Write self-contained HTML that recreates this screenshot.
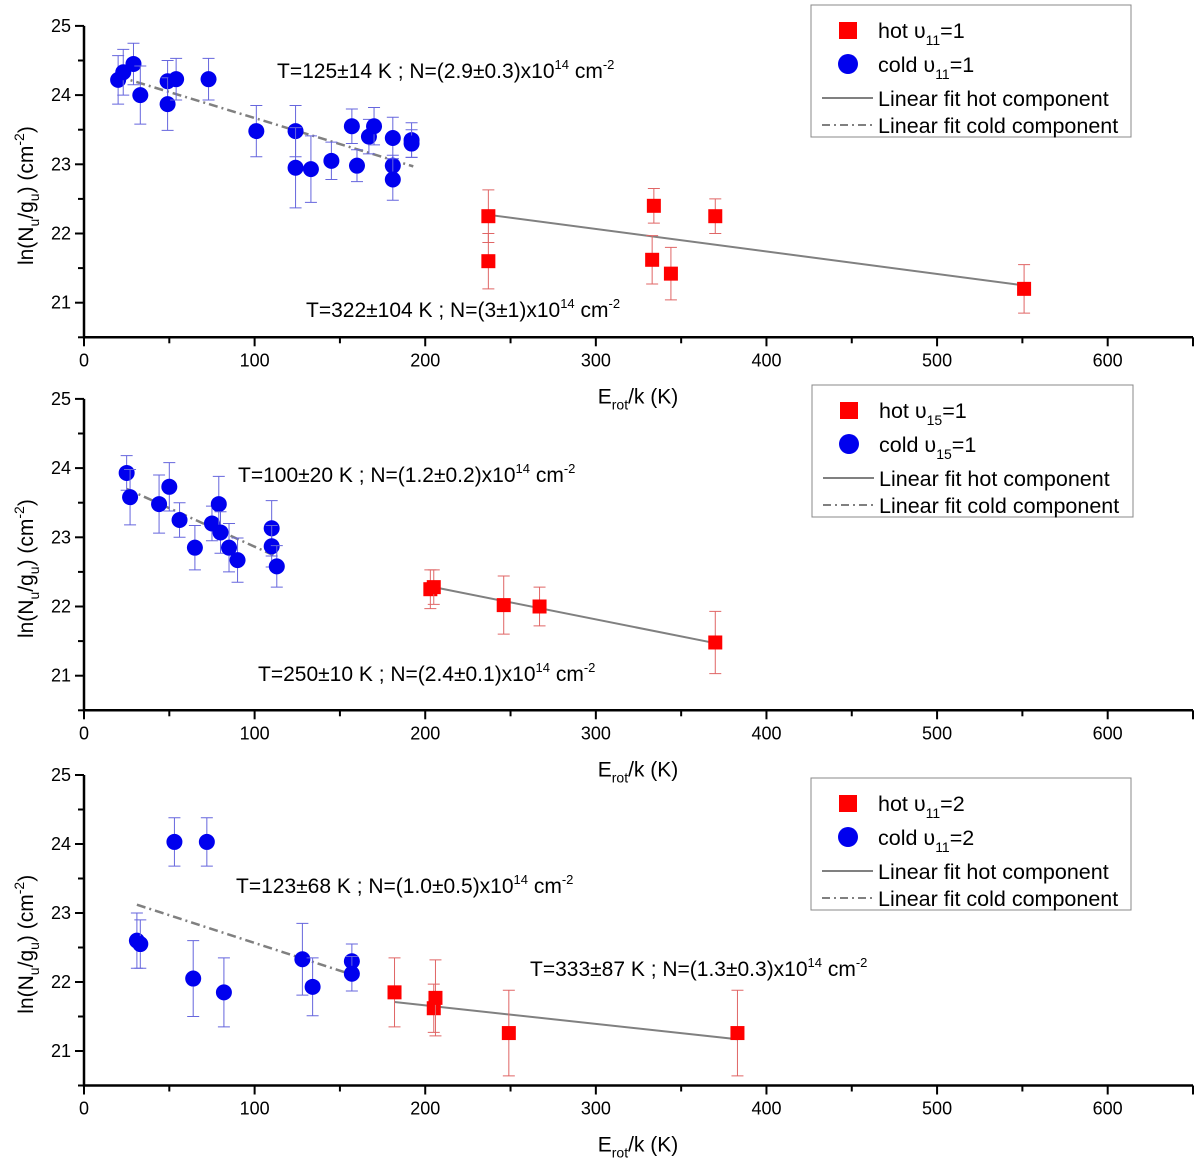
<!DOCTYPE html>
<html><head><meta charset="utf-8"><style>
body{margin:0;background:#fff;width:1200px;height:1164px;overflow:hidden}
svg{font-family:"Liberation Sans",Arial,sans-serif}
</style></head><body>
<svg id="c" width="1200" height="1164"></svg>
<script>
// Panel 1 data
const p1ColdX=[20,23,29,33,49,49,54,73,101,124,124,133,145,157,160,167,170,181,181,181,192,192];
const p1ColdY=[24.22,24.33,24.45,24.0,24.2,23.87,24.23,24.23,23.48,23.48,22.95,22.93,23.05,23.55,22.98,23.4,23.55,23.38,22.98,22.78,23.35,23.3];
const p1ColdE=[0.35,0.33,0.3,0.42,0.3,0.38,0.3,0.3,0.37,0.37,0.58,0.48,0.27,0.25,0.23,0.25,0.27,0.3,0.15,0.3,0.25,0.2];
const p1HotX=[237,237,333,334,344,370,551];
const p1HotY=[22.25,21.6,21.62,22.4,21.42,22.25,21.2];
const p1HotE=[0.38,0.4,0.35,0.25,0.38,0.25,0.35];
const p1ColdFit=[[20,24.27],[193,22.97]];
const p1HotFit=[[237,22.27],[551,21.25]];
// Panel 2 data
const p2ColdX=[25,27,44,50,56,65,75,79,80,85,90,110,110,113];
const p2ColdY=[23.93,23.58,23.48,23.73,23.25,22.85,23.2,23.48,23.07,22.85,22.67,23.13,22.87,22.58];
const p2ColdE=[0.25,0.4,0.42,0.35,0.25,0.32,0.25,0.4,0.3,0.35,0.32,0.4,0.3,0.3];
const p2HotX=[203,205,246,267,370];
const p2HotY=[22.25,22.28,22.02,22.0,21.48];
const p2HotE=[0.28,0.25,0.42,0.28,0.45];
const p2ColdFit=[[25,23.7],[113,22.72]];
const p2HotFit=[[205,22.28],[370,21.47]];
// Panel 3 data
const p3ColdX=[31,33,53,64,72,82,128,134,157,157];
const p3ColdY=[22.6,22.55,24.03,22.05,24.03,21.85,22.33,21.93,22.3,22.12];
const p3ColdE=[0.4,0.35,0.35,0.55,0.35,0.5,0.52,0.42,0.25,0.25];
const p3HotX=[182,205,206,249,383];
const p3HotY=[21.85,21.62,21.77,21.26,21.26];
const p3HotE=[0.5,0.35,0.55,0.62,0.62];
const p3ColdFit=[[31,23.12],[158,22.1]];
const p3HotFit=[[182,21.71],[383,21.17]];
const xTicks=[0,100,200,300,400,500,600];
const yTicks=[21,22,23,24,25];

const NS="http://www.w3.org/2000/svg";
const svg=document.getElementById('c');
function mk(tag,attrs,parent){const e=document.createElementNS(NS,tag);for(const k in attrs)e.setAttribute(k,attrs[k]);(parent||svg).appendChild(e);return e;}

function panel(P){
  const g=mk('g',{});
  
  
  const x0=84,x1=1193,xmin=0,xmax=650;
  const X=v=>x0+(v-xmin)/(xmax-xmin)*(x1-x0);
  const Y=v=>P.y21-(v-21)*P.py;
  const yb=Y(20.5), yt=Y(25);
  const ax=mk('path',{d:`M${x0} ${yt}V${yb}H${x1}`,stroke:'#000','stroke-width':2.5,fill:'none'},g);
  
  
  for(let v=0;v<=650;v+=50){const major=v%100===0;mk('line',{x1:X(v),x2:X(v),y1:yb,y2:yb+(major||v===650?9:6),stroke:'#000','stroke-width':2},g);}
  xTicks.forEach(v=>{const t=mk('text',{x:X(v),y:yb+29,'text-anchor':'middle','font-size':18},g);t.textContent=v;
    });
  for(let v=20.5;v<=25.001;v+=0.5){const major=Math.abs(v-Math.round(v))<0.01;mk('line',{x1:x0,x2:x0-(major?9:6),y1:Y(v),y2:Y(v),stroke:'#000','stroke-width':2},g);}
  yTicks.forEach(v=>{const t=mk('text',{x:x0-13,y:Y(v)+6,'text-anchor':'end','font-size':18},g);t.textContent=v;
    });
  const xt=mk('text',{x:638,y:yb+66,'text-anchor':'middle','font-size':21},g);
  xt.innerHTML='E<tspan font-size="14" dy="6">rot</tspan><tspan dy="-6">/k (K)</tspan>';
  
  const yc=(yt+yb)/2+14;
  const ytl=mk('text',{x:0,y:0,'text-anchor':'middle','font-size':21,transform:`translate(33 ${yc}) rotate(-90)`},g);
  ytl.innerHTML='ln(N<tspan font-size="14" dy="6">u</tspan><tspan dy="-6">/g</tspan><tspan font-size="14" dy="6">u</tspan><tspan dy="-6">) (cm</tspan><tspan font-size="14" dy="-9">-2</tspan><tspan dy="9">)</tspan>';
  
  const fc=mk('line',{x1:X(P.coldFit[0][0]),y1:Y(P.coldFit[0][1]),x2:X(P.coldFit[1][0]),y2:Y(P.coldFit[1][1]),stroke:'#808080','stroke-width':2.5,'stroke-dasharray':'9 4 2 4'},g);
  
  const fh=mk('line',{x1:X(P.hotFit[0][0]),y1:Y(P.hotFit[0][1]),x2:X(P.hotFit[1][0]),y2:Y(P.hotFit[1][1]),stroke:'#808080','stroke-width':2},g);
  
  function errbar(x,y,e,col){
    const X1=X(x),ya=Y(y+e),yb2=Y(y-e);
    mk('path',{d:`M${X1} ${ya}V${yb2}M${X1-6} ${ya}H${X1+6}M${X1-6} ${yb2}H${X1+6}`,stroke:col,'stroke-width':1,fill:'none'},g);
  }
  P.coldX.forEach((x,i)=>{errbar(x,P.coldY[i],P.coldE[i],'#6666dd');
    const c=mk('circle',{cx:X(x),cy:Y(P.coldY[i]),r:8,fill:'#0000ee'},g);
    });
  P.hotX.forEach((x,i)=>{errbar(x,P.hotY[i],P.hotE[i],'#e06666');
    const r=mk('rect',{x:X(x)-7,y:Y(P.hotY[i])-7,width:14,height:14,fill:'#ff0000'},g);
    });
  P.notes.forEach(n=>{const t=mk('text',{x:n[0],y:n[1],'font-size':21},g);
    t.innerHTML=n[2]+'x10<tspan font-size="13" dy="-9">14</tspan><tspan dy="9"> cm</tspan><tspan font-size="13" dy="-9">-2</tspan>';
    });
  const L=mk('g',{},g);
  const lx=P.leg[0],ly=P.leg[1];
  mk('rect',{x:lx,y:ly,width:P.leg[2],height:132,fill:'#fff',stroke:'#888','stroke-width':1},L);
  mk('rect',{x:lx+28,y:ly+17,width:18,height:17,fill:'#ff0000'},L);
  mk('circle',{cx:lx+37,cy:ly+59,r:10,fill:'#0000ee'},L);
  mk('line',{x1:lx+11,x2:lx+62,y1:ly+93,y2:ly+93,stroke:'#808080','stroke-width':2},L);
  mk('line',{x1:lx+11,x2:lx+62,y1:ly+120,y2:ly+120,stroke:'#808080','stroke-width':2,'stroke-dasharray':'8 4 2 4'},L);
  const rows=[`hot υ<tspan font-size="14" dy="7">${P.sub}</tspan><tspan dy="-7">=${P.v}</tspan>`,
    `cold υ<tspan font-size="14" dy="7">${P.sub}</tspan><tspan dy="-7">=${P.v}</tspan>`,
    'Linear fit hot component','Linear fit cold component'];
  const rowY=[33,67,101,128];
  rows.forEach((r,i)=>{const t=mk('text',{x:lx+67,y:ly+rowY[i],'font-size':21.5},L);t.innerHTML=r;
    });
}

panel({name:'panel-v11-1',y21:302.7,py:69.2,coldX:p1ColdX,coldY:p1ColdY,coldE:p1ColdE,hotX:p1HotX,hotY:p1HotY,hotE:p1HotE,coldFit:p1ColdFit,hotFit:p1HotFit,
  notes:[[277,78,'T=125±14 K ; N=(2.9±0.3)'],[306,317,'T=322±104 K ; N=(3±1)']],leg:[811,5,320],sub:'11',v:'1'});
panel({name:'panel-v15-1',y21:675.7,py:69.2,coldX:p2ColdX,coldY:p2ColdY,coldE:p2ColdE,hotX:p2HotX,hotY:p2HotY,hotE:p2HotE,coldFit:p2ColdFit,hotFit:p2HotFit,
  notes:[[238,482,'T=100±20 K ; N=(1.2±0.2)'],[258,681,'T=250±10 K ; N=(2.4±0.1)']],leg:[812,385,321],sub:'15',v:'1'});
panel({name:'panel-v11-2',y21:1051,py:69,coldX:p3ColdX,coldY:p3ColdY,coldE:p3ColdE,hotX:p3HotX,hotY:p3HotY,hotE:p3HotE,coldFit:p3ColdFit,hotFit:p3HotFit,
  notes:[[236,893,'T=123±68 K ; N=(1.0±0.5)'],[530,976,'T=333±87 K ; N=(1.3±0.3)']],leg:[811,778,320],sub:'11',v:'2'});
</script>
</body></html>
